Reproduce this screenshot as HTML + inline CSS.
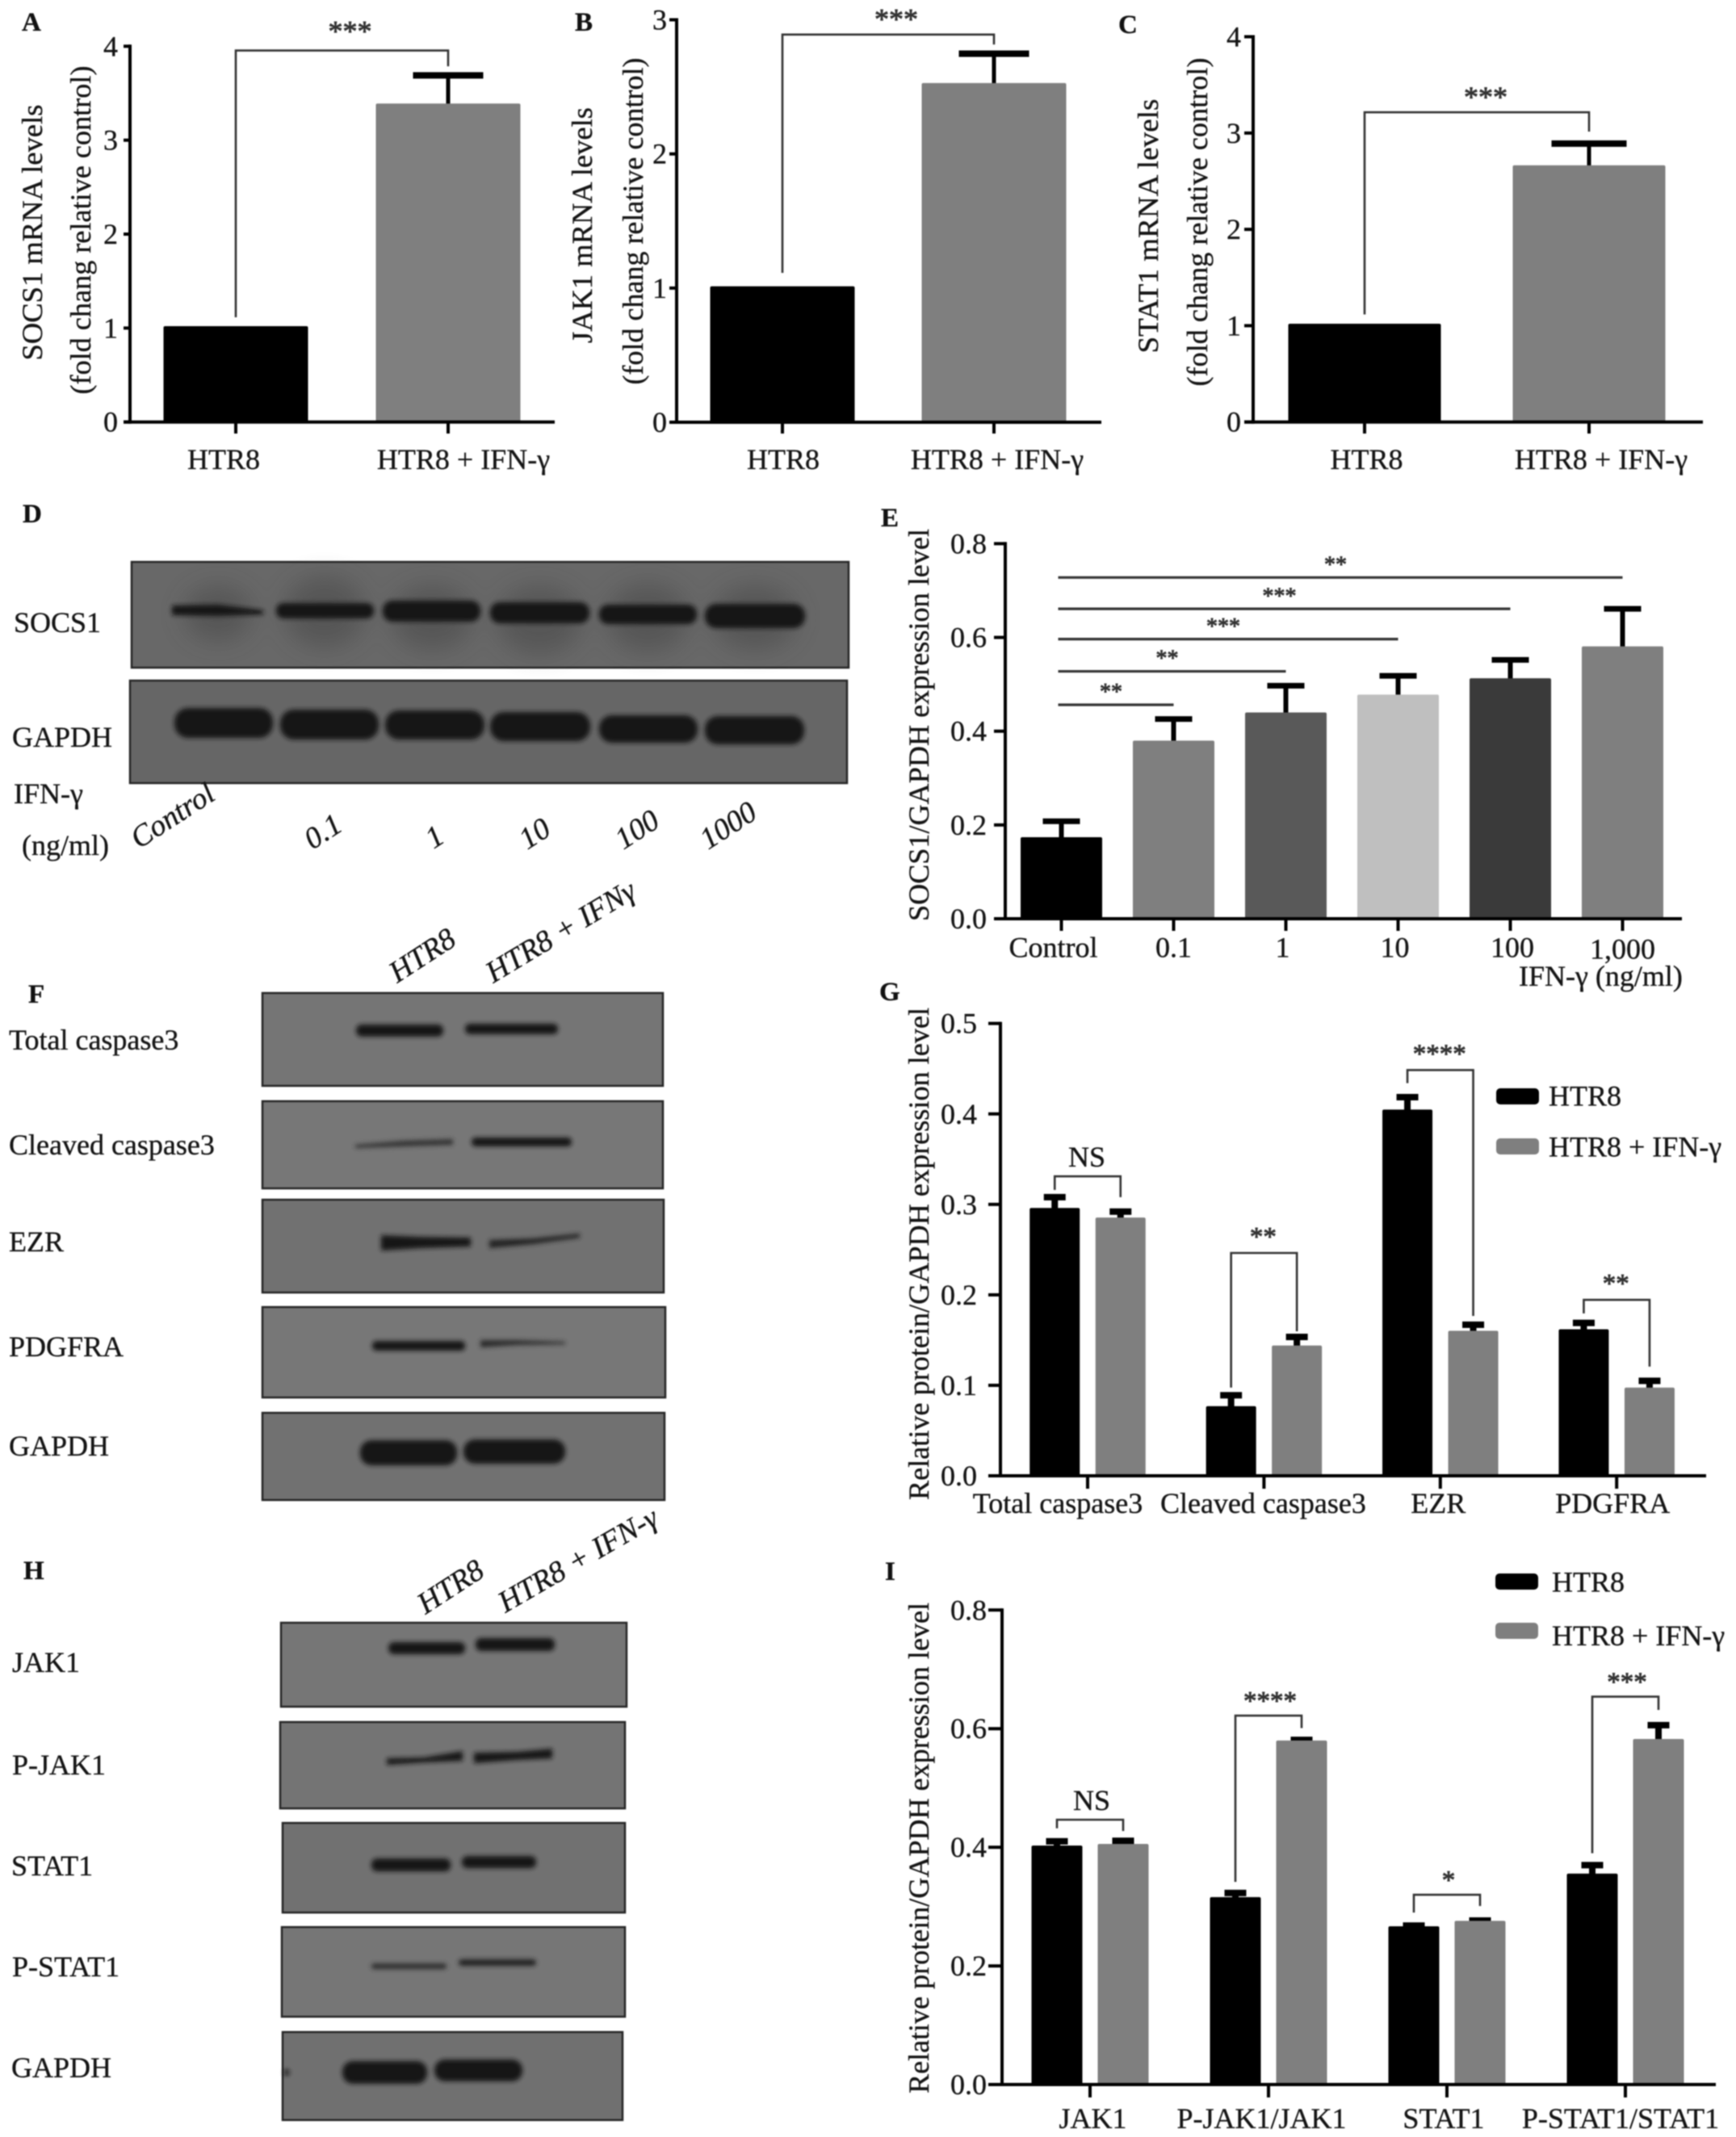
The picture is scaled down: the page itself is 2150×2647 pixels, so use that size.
<!DOCTYPE html>
<html lang="en">
<head>
<meta charset="utf-8">
<title>IFN-γ effects on HTR8 cells: qPCR, western blots and quantification</title>
<style>
html,body{margin:0;padding:0;background:#fff;width:2150px;height:2647px;overflow:hidden}
svg{display:block;filter:blur(0.8px)}
text{font-family:"Liberation Serif","Noto Serif CJK SC",serif;fill:#141414;stroke:#141414;stroke-width:.35px;font-size:36px}
.pl{font-weight:bold;font-size:33px;fill:#111}
.rot{font-style:italic;font-size:37.5px}
.blot{stroke:#262626;stroke-width:2.5}
.bd{fill:#121212}
</style>
</head>
<body>
<svg id="figure" xmlns="http://www.w3.org/2000/svg" width="2150" height="2647" viewBox="0 0 2150 2647">
<defs>
<filter id="b3" x="-20%" y="-60%" width="140%" height="220%"><feGaussianBlur stdDeviation="3"/></filter>
<filter id="b20" x="-60%" y="-60%" width="220%" height="220%"><feGaussianBlur stdDeviation="15"/></filter>
</defs>

<g>
<text class="pl" x="27" y="38">A</text>
<text class="pl" x="712" y="38">B</text>
<text class="pl" x="1385" y="41">C</text>
<text class="pl" x="28" y="647">D</text>
<text class="pl" x="1091" y="652">E</text>
<text class="pl" x="35" y="1242">F</text>
<text class="pl" x="1089" y="1239">G</text>
<text class="pl" x="29" y="1956">H</text>
<text class="pl" x="1096" y="1957">I</text>
</g>

<!-- Panel D blots -->
<g>
<rect class="blot" x="163" y="696" width="888" height="131" fill="#686868"/>
<g filter="url(#b20)" fill="#3c3c3c" opacity=".42">
<ellipse cx="270" cy="760" rx="42" ry="34"/><ellipse cx="402" cy="758" rx="50" ry="44"/><ellipse cx="535" cy="765" rx="50" ry="40"/><ellipse cx="668" cy="768" rx="52" ry="42"/><ellipse cx="802" cy="765" rx="50" ry="42"/><ellipse cx="935" cy="765" rx="52" ry="40"/>
</g>
<g filter="url(#b3)" class="bd">
<polygon points="213,750 270,749 326,756 326,761 270,763 213,762"/><rect x="342" y="747" width="121" height="19" rx="9"/><rect x="474" y="744" width="121" height="26" rx="12"/><rect x="607" y="746" width="123" height="26" rx="12"/><rect x="742" y="749" width="121" height="24" rx="11"/><rect x="873" y="748" width="124" height="30" rx="14"/>
</g>
<rect class="blot" x="161" y="843" width="888" height="127" fill="#666666"/>
<g filter="url(#b3)" class="bd">
<rect x="216" y="877" width="122" height="37" rx="17"/><rect x="347" y="879" width="122" height="37" rx="17"/><rect x="477" y="880" width="123" height="36" rx="17"/><rect x="607" y="882" width="124" height="36" rx="17"/><rect x="742" y="886" width="122" height="34" rx="16"/><rect x="873" y="887" width="123" height="35" rx="16"/>
</g>
<text x="17" y="783">SOCS1</text>
<text x="15" y="925">GAPDH</text>
<text x="17" y="995">IFN-γ</text>
<text x="27" y="1059">(ng/ml)</text>
<text class="rot" transform="translate(172 1052) rotate(-33)">Control</text>
<text class="rot" transform="translate(387 1053) rotate(-33)">0.1</text>
<text class="rot" transform="translate(537 1052) rotate(-33)">1</text>
<text class="rot" transform="translate(653 1053) rotate(-33)">10</text>
<text class="rot" transform="translate(772 1053) rotate(-33)">100</text>
<text class="rot" transform="translate(877 1053) rotate(-33)">1000</text>
</g>

<!-- Panel F blots -->
<g>
<text class="rot" transform="translate(492 1218) rotate(-33)">HTR8</text>
<text class="rot" transform="translate(611 1218) rotate(-31)">HTR8 + IFNγ</text>
<rect class="blot" x="325" y="1230" width="496" height="115" fill="#757575"/>
<rect class="blot" x="325" y="1364" width="496" height="108" fill="#777777"/>
<rect class="blot" x="325" y="1486" width="497" height="115" fill="#717171"/>
<rect class="blot" x="325" y="1619" width="499" height="112" fill="#777777"/>
<rect class="blot" x="325" y="1750" width="498" height="108" fill="#717171"/>
<g filter="url(#b3)" class="bd">
<rect x="441" y="1269" width="108" height="15" rx="7"/><rect x="576" y="1268" width="115" height="13" rx="6"/>
<polygon points="440,1418 500,1413 561,1411 561,1418 500,1420 440,1422" fill="#333"/><rect x="584" y="1409" width="124" height="11" rx="5"/>
<polygon points="472,1530 520,1532 583,1533 583,1544 520,1546 472,1549"/><polygon points="606,1536 660,1534 718,1528 718,1533 660,1541 606,1546" fill="#222"/>
<rect x="461" y="1661" width="115" height="12" rx="5"/><polygon points="595,1660 640,1660 700,1662 700,1665 640,1666 595,1669" fill="#2c2c2c"/>
<rect x="446" y="1784" width="120" height="31" rx="14"/><rect x="574" y="1783" width="126" height="30" rx="14"/>
</g>
<text x="11" y="1300">Total caspase3</text>
<text x="11" y="1430">Cleaved caspase3</text>
<text x="11" y="1550">EZR</text>
<text x="11" y="1680">PDGFRA</text>
<text x="11" y="1803">GAPDH</text>
</g>

<!-- Panel H blots -->
<g>
<text class="rot" transform="translate(527 2000) rotate(-33)">HTR8</text>
<text class="rot" transform="translate(626 1998) rotate(-30)">HTR8 + IFN-γ</text>
<rect class="blot" x="348" y="2010" width="428" height="104" fill="#767676"/>
<rect class="blot" x="347" y="2133" width="427" height="107" fill="#747474"/>
<rect class="blot" x="350" y="2258" width="424" height="111" fill="#717171"/>
<rect class="blot" x="349" y="2387" width="425" height="111" fill="#767676"/>
<rect class="blot" x="350" y="2517" width="421" height="109" fill="#707070"/>
<g filter="url(#b3)" class="bd">
<rect x="481" y="2034" width="95" height="15" rx="7"/><rect x="589" y="2029" width="98" height="16" rx="7"/>
<polygon points="479,2178 525,2177 573,2169 573,2181 525,2183 479,2186"/><polygon points="587,2171 640,2170 684,2166 684,2178 640,2180 587,2184"/>
<rect x="460" y="2302" width="98" height="16" rx="7"/><rect x="572" y="2299" width="92" height="15" rx="7"/>
<rect x="460" y="2432" width="93" height="7" rx="3" fill="#2e2e2e"/><rect x="568" y="2427" width="96" height="8" rx="4" fill="#242424"/>
<rect x="424" y="2553" width="105" height="28" rx="13"/><rect x="538" y="2551" width="109" height="27" rx="13"/>
<circle cx="355" cy="2567" r="3.5"/>
</g>
<text x="15" y="2071">JAK1</text>
<text x="15" y="2198">P-JAK1</text>
<text x="14" y="2323">STAT1</text>
<text x="15" y="2448">P-STAT1</text>
<text x="14" y="2573">GAPDH</text>
</g>
</svg>

<script>
/* ---------- Chart data ---------- */
const aCategories = ['HTR8', 'HTR8 + IFN-γ'];
const aValues = [1.02, 3.39];
const aErrors = [1.02, 3.69];
const aTickLabels = ['0', '1', '2', '3', '4'];
const aBracketLeft = [1.115];
const aBracketTop = [3.955];
const aBracketRight = [3.787];
const aBracketLabels = ['***'];

const bCategories = ['HTR8', 'HTR8 + IFN-γ'];
const bValues = [1.013, 2.528];
const bErrors = [1.013, 2.747];
const bTickLabels = ['0', '1', '2', '3'];
const bBracketLeft = [1.113];
const bBracketTop = [2.89];
const bBracketRight = [2.816];
const bBracketLabels = ['***'];

const cCategories = ['HTR8', 'HTR8 + IFN-γ'];
const cValues = [1.02, 2.665];
const cErrors = [1.02, 2.89];
const cTickLabels = ['0', '1', '2', '3', '4'];
const cBracketLeft = [1.117];
const cBracketTop = [3.216];
const cBracketRight = [3.015];
const cBracketLabels = ['***'];

const eCategories = ['Control', '0.1', '1', '10', '100', '1,000'];
const eValues = [0.174, 0.38, 0.44, 0.478, 0.513, 0.581];
const eErrors = [0.208, 0.426, 0.497, 0.518, 0.552, 0.661];
const eTickLabels = ['0.0', '0.2', '0.4', '0.6', '0.8'];
const eSigLevels = [0.4563, 0.5277, 0.5964, 0.661, 0.7278];
const eSigEndCategory = [1, 2, 3, 4, 5];
const eSigLabels = ['**', '**', '***', '***', '**'];

const gCategories = ['Total caspase3', 'Cleaved caspase3', 'EZR', 'PDGFRA'];
const gSeriesNames = ['HTR8', 'HTR8 + IFN-γ'];
const gControl = [0.296, 0.077, 0.4048, 0.162];
const gControlErr = [0.308, 0.089, 0.4185, 0.169];
const gTreated = [0.2855, 0.144, 0.1603, 0.0975];
const gTreatedErr = [0.292, 0.1535, 0.167, 0.105];
const gTickLabels = ['0.0', '0.1', '0.2', '0.3', '0.4', '0.5'];
const gBracketLeft = [0.316, 0.0975, 0.434, 0.1795];
const gBracketTop = [0.331, 0.2463, 0.4485, 0.1945];
const gBracketRight = [0.308, 0.1597, 0.1767, 0.1207];
const gBracketLabels = ['NS', '**', '****', '**'];

const iCategories = ['JAK1', 'P-JAK1/JAK1', 'STAT1', 'P-STAT1/STAT1'];
const iSeriesNames = ['HTR8', 'HTR8 + IFN-γ'];
const iControl = [0.403, 0.316, 0.2668, 0.3557];
const iControlErr = [0.41, 0.323, 0.268, 0.37];
const iTreated = [0.4057, 0.58, 0.276, 0.5826];
const iTreatedErr = [0.411, 0.581, 0.2765, 0.606];
const iTickLabels = ['0.0', '0.2', '0.4', '0.6', '0.8'];
const iBracketLeft = [0.432, 0.3417, 0.29, 0.39];
const iBracketTop = [0.4465, 0.622, 0.32, 0.654];
const iBracketRight = [0.4274, 0.601, 0.301, 0.6316];
const iBracketLabels = ['NS', '****', '*', '***'];

/* ---------- Drawing ---------- */
const SVGNS = 'http://www.w3.org/2000/svg';
const root = document.getElementById('figure');

function mk(parent, tag, attrs, name, content) {
  const el = document.createElementNS(SVGNS, tag);
  for (const k in attrs) el.setAttribute(k, attrs[k]);
  
  
  if (content !== undefined) el.textContent = content;
  parent.appendChild(el);
  return el;
}
function line(p, x1, y1, x2, y2, color, w, name) {
  return mk(p, 'line', {x1: x1, y1: y1, x2: x2, y2: y2, stroke: color, 'stroke-width': w}, name);
}
function stars(p, cx, cy, label, size, name) {
  return mk(p, 'text', {x: cx, y: cy + 0.47 * size, 'text-anchor': 'middle', style: 'font-size:' + size + 'px;fill:#333;stroke:#333;stroke-width:.9px'}, name, label);
}

function drawChart(c) {
  const g = mk(root, 'g', {}, c.id);
  const yScale = function (v) { return c.y0 - v * (c.y0 - c.yTop) / c.yMax; };
  const xScale = function (i) { return c.catX0 + i * c.catStep; };
  const n = c.series.length;
  const barX = function (i, s) { return xScale(i) + (s - (n - 1) / 2) * c.seriesGap; };

  /* bars and error bars */
  c.series.forEach(function (s, si) {
    s.values.forEach(function (v, i) {
      const cx = barX(i, si);
      const fill = s.colors ? s.colors[i] : s.color;
      const errTop = yScale(s.errors[i]);
      if (s.errors[i] > v) {
        line(g, cx, yScale(v) + 2, cx, errTop, '#000', c.errW, c.id + '-error-line');
        line(g, cx - c.capW / 2, errTop, cx + c.capW / 2, errTop, '#000', c.capH, c.id + '-error-cap');
      }
      mk(g, 'rect', {x: cx - c.barW / 2, y: yScale(v), width: c.barW, height: c.y0 - yScale(v), rx: 2, fill: fill}, c.id + '-bar-' + i + '-' + si);
    });
  });

  /* axes */
  line(g, c.axisX, yScale(c.yMax) - 2, c.axisX, c.y0 + 2, '#000', 4, c.id + '-y-axis');
  line(g, c.xStart, c.y0, c.xEnd, c.y0, '#000', 4, c.id + '-x-axis');
  c.tickLabels.forEach(function (t) {
    const y = yScale(parseFloat(t));
    line(g, c.axisX - c.tickLen, y, c.axisX, y, '#000', 4, c.id + '-y-tick');
    mk(g, 'text', {x: c.tickLabelX, y: y + 12, 'text-anchor': 'end'}, c.id + '-y-tick-label', t);
  });
  c.categories.forEach(function (cat, i) {
    line(g, xScale(i), c.y0, xScale(i), c.tickBottom, '#000', 4, c.id + '-x-tick');
    mk(g, 'text', {x: xScale(i) + c.labelShift[i], y: c.labelBase + (c.labelDrop ? c.labelDrop[i] : 0), 'text-anchor': 'middle'}, c.id + '-x-label', cat);
  });

  /* titles */
  c.titles.forEach(function (t) {
    mk(g, 'text', {transform: 'translate(' + t.x + ' ' + t.cy + ') rotate(-90)', 'text-anchor': 'middle', textLength: t.len, lengthAdjust: 'spacingAndGlyphs'}, c.id + '-y-title', t.text);
  });

  /* significance brackets */
  if (c.bracketTop) {
    c.bracketTop.forEach(function (top, b) {
      const xl = n > 1 ? barX(b, 0) : xScale(0);
      const xr = n > 1 ? barX(b, 1) : xScale(1);
      const yt = yScale(top);
      mk(g, 'polyline', {points: xl + ',' + yScale(c.bracketLeft[b]) + ' ' + xl + ',' + yt + ' ' + xr + ',' + yt + ' ' + xr + ',' + yScale(c.bracketRight[b]), fill: 'none', stroke: '#333', 'stroke-width': 2.6}, c.id + '-bracket');
      const mid = (xl + xr) / 2 + c.starShift;
      const lab = c.bracketLabels[b];
      if (lab === 'NS') {
        mk(g, 'text', {x: mid, y: yt - 12, 'text-anchor': 'middle'}, c.id + '-ns-label', lab);
      } else {
        stars(g, mid, yt - c.starDy, lab, c.starSize, c.id + '-significance');
      }
    });
  }

  /* legend */
  if (c.legend) {
    c.series.forEach(function (s, si) {
      mk(g, 'rect', {x: c.legend.x, y: c.legend.ys[si], width: c.legend.w, height: c.legend.h, rx: 5, fill: s.color}, c.id + '-legend-swatch');
      mk(g, 'text', {x: c.legend.tx, y: c.legend.bases[si]}, c.id + '-legend-entry', s.name);
    });
  }
  return {g: g, xScale: xScale, yScale: yScale};
}

const BLACK = '#000000';
const GRAY = '#7f7f7f';

drawChart({id: 'chart-a', axisX: 161, y0: 522.7, yTop: 57.3, yMax: 4, xStart: 153, xEnd: 687, tickLen: 8, tickLabelX: 146,
  tickBottom: 537, catX0: 292, catStep: 263, barW: 179, capW: 87, capH: 8, errW: 5, seriesGap: 0,
  labelShift: [-15, 19], labelBase: 581, categories: aCategories, tickLabels: aTickLabels,
  series: [{values: aValues, errors: aErrors, colors: [BLACK, GRAY]}],
  titles: [{x: 52, cy: 288, len: 317, text: 'SOCS1 mRNA levels'}, {x: 112, cy: 285, len: 407, text: '(fold chang relative control)'}],
  bracketLeft: aBracketLeft, bracketTop: aBracketTop, bracketRight: aBracketRight, bracketLabels: aBracketLabels,
  starShift: 10, starDy: 29, starSize: 36});

drawChart({id: 'chart-b', axisX: 838, y0: 523, yTop: 24.5, yMax: 3, xStart: 829, xEnd: 1364, tickLen: 9, tickLabelX: 826,
  tickBottom: 537, catX0: 969, catStep: 262, barW: 179, capW: 87, capH: 8, errW: 5, seriesGap: 0,
  labelShift: [1, 4], labelBase: 581, categories: bCategories, tickLabels: bTickLabels,
  series: [{values: bValues, errors: bErrors, colors: [BLACK, GRAY]}],
  titles: [{x: 733, cy: 279, len: 292, text: 'JAK1 mRNA levels'}, {x: 796, cy: 274, len: 405, text: '(fold chang relative control)'}],
  bracketLeft: bBracketLeft, bracketTop: bBracketTop, bracketRight: bBracketRight, bracketLabels: bBracketLabels,
  starShift: 10, starDy: 24, starSize: 36});

drawChart({id: 'chart-c', axisX: 1552, y0: 522.7, yTop: 45.5, yMax: 4, xStart: 1541, xEnd: 2109, tickLen: 11, tickLabelX: 1537,
  tickBottom: 537, catX0: 1690, catStep: 278, barW: 189, capW: 93, capH: 8, errW: 5, seriesGap: 0,
  labelShift: [2.5, 15], labelBase: 581, categories: cCategories, tickLabels: cTickLabels,
  series: [{values: cValues, errors: cErrors, colors: [BLACK, GRAY]}],
  titles: [{x: 1434, cy: 280, len: 315, text: 'STAT1 mRNA levels'}, {x: 1495, cy: 275, len: 407, text: '(fold chang relative control)'}],
  bracketLeft: cBracketLeft, bracketTop: cBracketTop, bracketRight: cBracketRight, bracketLabels: cBracketLabels,
  starShift: 11, starDy: 24, starSize: 36});

const chartE = drawChart({id: 'chart-e', axisX: 1245, y0: 1138, yTop: 673.4, yMax: 0.8, xStart: 1231, xEnd: 2083, tickLen: 14, tickLabelX: 1222,
  tickBottom: 1153, catX0: 1314.5, catStep: 139, barW: 101, capW: 46, capH: 7, errW: 6, seriesGap: 0,
  labelShift: [-10, 0, -4, -4, 2.5, 0], labelBase: 1185.5, labelDrop: [0, 0, 0, 0, 0, 2], categories: eCategories, tickLabels: eTickLabels,
  series: [{values: eValues, errors: eErrors, colors: ['#000000', '#7f7f7f', '#595959', '#bfbfbf', '#3a3a3a', '#7f7f7f']}],
  titles: [{x: 1150, cy: 898, len: 486, text: 'SOCS1/GAPDH expression level'}]});

eSigLevels.forEach(function (level, k) {
  const y = chartE.yScale(level);
  const x1 = chartE.xScale(0) - 4;
  const x2 = chartE.xScale(eSigEndCategory[k]);
  line(chartE.g, x1, y, x2, y, '#333', 3.2, 'chart-e-significance-line');
  stars(chartE.g, (x1 + x2) / 2 - 6, y - 20, eSigLabels[k], 28, 'chart-e-significance');
});
mk(chartE.g, 'text', {x: 1881, y: 1221}, 'chart-e-x-title', 'IFN-γ (ng/ml)');

drawChart({id: 'chart-g', axisX: 1239, y0: 1828, yTop: 1267.7, yMax: 0.5, xStart: 1224, xEnd: 2113, tickLen: 15, tickLabelX: 1210,
  tickBottom: 1844, catX0: 1347, catStep: 218.4, barW: 62, capW: 27, capH: 8, errW: 8, seriesGap: 81.5,
  labelShift: [-37, -1, -2.5, -5], labelBase: 1874, categories: gCategories, tickLabels: gTickLabels,
  series: [{name: gSeriesNames[0], values: gControl, errors: gControlErr, color: BLACK}, {name: gSeriesNames[1], values: gTreated, errors: gTreatedErr, color: GRAY}],
  titles: [{x: 1150, cy: 1553, len: 610, text: 'Relative protein/GAPDH expression level'}],
  bracketLeft: gBracketLeft, bracketTop: gBracketTop, bracketRight: gBracketRight, bracketLabels: gBracketLabels,
  starShift: -1, starDy: 25, starSize: 33,
  legend: {x: 1853, w: 53, h: 20, ys: [1348, 1410], tx: 1918, bases: [1369.5, 1432.5]}});

drawChart({id: 'chart-i', axisX: 1241, y0: 2582, yTop: 1994.3, yMax: 0.8, xStart: 1224, xEnd: 2125, tickLen: 17, tickLabelX: 1222,
  tickBottom: 2598, catX0: 1350, catStep: 221, barW: 63, capW: 27, capH: 8, errW: 8, seriesGap: 82,
  labelShift: [3.5, -8.5, -4, -6], labelBase: 2636, categories: iCategories, tickLabels: iTickLabels,
  series: [{name: iSeriesNames[0], values: iControl, errors: iControlErr, color: BLACK}, {name: iSeriesNames[1], values: iTreated, errors: iTreatedErr, color: GRAY}],
  titles: [{x: 1150, cy: 2289, len: 608, text: 'Relative protein/GAPDH expression level'}],
  bracketLeft: iBracketLeft, bracketTop: iBracketTop, bracketRight: iBracketRight, bracketLabels: iBracketLabels,
  starShift: 2, starDy: 23, starSize: 33,
  legend: {x: 1852, w: 53, h: 20, ys: [1949, 2010], tx: 1922, bases: [1971.5, 2038]}});
</script>
</body>
</html>
